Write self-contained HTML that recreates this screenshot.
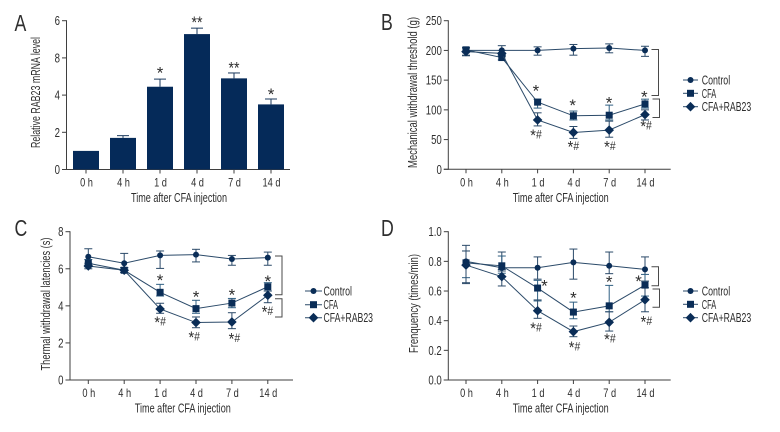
<!DOCTYPE html>
<html lang="en">
<head>
<meta charset="utf-8">
<title>RAB23 time-course panels</title>
<style>
html,body{margin:0;padding:0;background:#fff;}
#figure{display:block;width:780px;height:432px;font-family:"Liberation Sans",sans-serif;}
</style>
</head>
<body>
<svg id="figure" xmlns="http://www.w3.org/2000/svg" width="780" height="432" viewBox="0 0 780 432"></svg>
<script>
// Shared categories
const categories = ['0 h', '4 h', '1 d', '4 d', '7 d', '14 d'];
const seriesNames = ['Control', 'CFA', 'CFA+RAB23'];

// Panel A
const aValues = [1, 1.7, 4.45, 7.28, 4.9, 3.5];
const aUpper = [1, 1.82, 4.86, 7.6, 5.19, 3.79];
const aTicks = [0, 2, 4, 6, 8];
const aTickLabels = ['0', '2', '4', '8', '6'];
const aNotes = [[2, 5.28, '*'], [3, 7.98, '**'], [4, 5.55, '**'], [5, 4.1, '*']];

// Panel B
const bTicks = [0, 50, 100, 150, 200, 250];
const bTickLabels = ['0', '50', '100', '150', '200', '250'];
const bControl = [200, 200, 200, 203, 204, 200];
const bControlUp = [205, 208, 206, 210, 211, 207];
const bControlLow = [191, 192, 192, 192, 196, 190];
const bCfa = [201, 188, 113, 90, 91, 110];
const bCfaUp = [205, 192, 118, 98, 108, 118];
const bCfaLow = [197, 184, 103, 83, 83, 103];
const bRab = [198, 195, 83, 62, 66, 92];
const bRabUp = [204, 200, 95, 72, 81, 100];
const bRabLow = [192, 190, 73, 52, 54, 83];
const bNotes = [[1.955, 134.5, '*'], [2.98, 110, '*'], [3.995, 114, '*'], [4.98, 124, '*'],
  [1.955, 59.4, '*#'], [3, 40.4, '*#'], [4.02, 40.4, '*#'], [5.03, 74.6, '*#']];

// Panel C
const cTicks = [0, 2, 4, 6, 8];
const cTickLabels = ['0', '2', '4', '6', '8'];
const cControl = [6.65, 6.3, 6.72, 6.76, 6.53, 6.6];
const cControlUp = [7.08, 6.83, 6.96, 7.05, 6.72, 6.9];
const cControlLow = [6.2, 6.06, 6.02, 6.37, 6.19, 6.19];
const cCfa = [6.3, 5.92, 4.73, 3.85, 4.15, 5.03];
const cCfaUp = [6.5, 6.05, 5.16, 4.3, 4.4, 5.25];
const cCfaLow = [6.1, 5.8, 4.53, 3.6, 3.9, 4.8];
const cRab = [6.15, 5.92, 3.83, 3.1, 3.13, 4.57];
const cRabUp = [6.3, 6.05, 4.14, 3.4, 3.63, 4.8];
const cRabLow = [6.0, 5.8, 3.6, 2.82, 2.77, 4.17];
const cNotes = [[2, 5.45, '*'], [3, 4.55, '*'], [4, 4.66, '*'], [5, 5.4, '*'],
  [2, 3.17, '*#'], [2.95, 2.37, '*#'], [4.07, 2.3, '*#'], [4.99, 3.76, '*#']];

// Panel D
const dTicks = [0, 0.2, 0.4, 0.6, 0.8, 1];
const dTickLabels = ['0.0', '0.2', '0.4', '0.6', '0.8', '1.0'];
const dControl = [0.8, 0.757, 0.757, 0.793, 0.77, 0.746];
const dControlUp = [0.908, 0.863, 0.83, 0.883, 0.863, 0.83];
const dControlLow = [0.656, 0.735, 0.68, 0.68, 0.717, 0.667];
const dCfa = [0.79, 0.77, 0.62, 0.458, 0.5, 0.64];
const dCfaUp = [0.87, 0.836, 0.672, 0.525, 0.638, 0.712];
const dCfaLow = [0.69, 0.72, 0.533, 0.413, 0.46, 0.566];
const dRab = [0.775, 0.697, 0.467, 0.326, 0.389, 0.541];
const dRabUp = [0.87, 0.745, 0.54, 0.364, 0.46, 0.622];
const dRabLow = [0.65, 0.634, 0.416, 0.292, 0.33, 0.46];
const dNotes = [[2.19, 0.645, '*'], [3, 0.562, '*'], [4, 0.672, '*'], [4.82, 0.674, '*'],
  [1.955, 0.357, '*#'], [3.03, 0.229, '*#'], [4.02, 0.283, '*#'], [5.04, 0.402, '*#']];

const NS = 'http://www.w3.org/2000/svg';
const root = document.getElementById('figure');
const NAVY = '#0a2d57';
const LINE = '#2b4a69';
const AXIS = '#3f3f3f';
const INK = '#2e2e2e';

function make(parent, tag, attrs) {
  const el = document.createElementNS(NS, tag);
  for (const k in attrs) el.setAttribute(k, attrs[k]);
  parent.appendChild(el);
  return el;
}

function label(parent, name, str, x, y, size, anchor, width, rotate) {
  const t = make(parent, 'text', {x: x, y: y, 'font-size': size, 'text-anchor': anchor, fill: INK});
  
  
  t.textContent = str;
  const natural = t.getComputedTextLength();
  const target = width || natural * 0.77;
  t.setAttribute('textLength', target);
  t.setAttribute('lengthAdjust', 'spacingAndGlyphs');
  if (rotate) t.setAttribute('transform', 'rotate(-90 ' + x + ' ' + y + ')');
  return t;
}

function line(parent, name, x1, y1, x2, y2, color, w) {
  const l = make(parent, 'line', {x1: x1, y1: y1, x2: x2, y2: y2, stroke: color, 'stroke-width': w});
  
  
  return l;
}

function marker(parent, name, kind, x, y) {
  let m;
  if (kind === 0) {
    m = make(parent, 'circle', {cx: x, cy: y, r: 3, fill: NAVY});
  } else if (kind === 1) {
    m = make(parent, 'rect', {x: x - 3.5, y: y - 3.5, width: 7, height: 7, fill: NAVY});
  } else {
    m = make(parent, 'polygon', {points: [x, y - 4.8, x + 4.8, y, x, y + 4.8, x - 4.8, y].join(','), fill: NAVY});
  }
  
  
  return m;
}

function drawAxes(g, o, ticks, tickLabels) {
  const sy = v => o.y0 - (v - ticks[0]) / (ticks[ticks.length - 1] - ticks[0]) * (o.y0 - o.yTop);
  const sx = i => o.x0 + i * o.step;
  line(g, 'y-axis', o.xAxis, o.yTop - 0.5, o.xAxis, o.y0 + 0.5, AXIS, 1);
  line(g, 'x-axis', o.xAxis - 4.5, o.y0, o.xEnd, o.y0, AXIS, 1);
  ticks.forEach((v, i) => {
    line(g, 'y-tick', o.xAxis - 4.5, sy(v), o.xAxis, sy(v), AXIS, 1);
    label(g, 'y-tick-label', tickLabels[i], o.xAxis - 6.5, sy(v) + 4.5, 12.5, 'end');
  });
  categories.forEach((c, i) => {
    line(g, 'x-tick', sx(i), o.y0, sx(i), o.y0 + 4, AXIS, 1);
    label(g, 'x-tick-label', c, sx(i) + 0.5, o.y0 + 17, 12, 'middle');
  });
  label(g, 'x-axis-title', 'Time after CFA injection', o.xTitle, o.y0 + 32.5, 12.5, 'middle', 96);
  label(g, 'y-axis-title', o.yTitle, o.yTitleX, o.yTitleMid, 12.5, 'middle', o.yTitleLen, true);
  label(g, 'panel-letter', o.letter, o.letterX, o.letterY, 23, 'start');
  return {sx, sy};
}

function drawNotes(g, notes, s) {
  notes.forEach(n => {
    const x = s.sx(n[0]);
    const y = s.sy(n[1]) + 7;
    const t = make(g, 'text', {x: x, y: y, 'font-size': 17, 'text-anchor': 'middle', fill: INK});
    
    
    t.textContent = n[2].charAt(0) === '*' ? '*' : n[2];
    if (n[2].length === 2 && n[2].charAt(1) === '*') {
      t.textContent = '**';
    } else if (n[2].length === 2) {
      const h = make(t, 'tspan', {'font-size': 12, dy: -2.5});
      
      
      h.textContent = '#';
    }
    const w = t.getComputedTextLength();
    t.setAttribute('textLength', n[2] === '*' ? w : (n[2] === '**' ? 11 : 11.5));
    t.setAttribute('lengthAdjust', 'spacingAndGlyphs');
  });
}

function drawSeries(g, s, seriesList) {
  seriesList.forEach((ser, k) => {
    ser.up.forEach((u, i) => {
      const x = s.sx(i);
      const color = k === 1 ? '#2f5f82' : LINE;
      line(g, 'error-bar', x, s.sy(u), x, s.sy(ser.low[i]), color, 1);
      line(g, 'error-cap-top', x - 4, s.sy(u), x + 4, s.sy(u), color, 1);
      line(g, 'error-cap-bottom', x - 4, s.sy(ser.low[i]), x + 4, s.sy(ser.low[i]), color, 1);
    });
  });
  seriesList.forEach((ser, k) => {
    const pts = ser.val.map((v, i) => s.sx(i) + ',' + s.sy(v)).join(' ');
    const p = make(g, 'polyline', {points: pts, fill: 'none', stroke: LINE, 'stroke-width': 1});
    
    
    ser.val.forEach((v, i) => {
      marker(g, 'series-point-' + seriesNames[k].toLowerCase().replace('+', '-'), k, s.sx(i), s.sy(v));
    });
  });
}

function drawLegend(g, x1, x2, textX, ys) {
  const widths = [28.5, 14.5, 49.5];
  seriesNames.forEach((n, k) => {
    line(g, 'legend-line', x1, ys[k], x2, ys[k], LINE, 1);
    marker(g, 'legend-marker', k, (x1 + x2) / 2, ys[k]);
    label(g, 'legend-label', n, textX, ys[k] + 4.5, 12.5, 'start', widths[k]);
  });
}

function bracket(g, x1, x2, y1, y2) {
  const p = make(g, 'polyline', {points: [x1, y1, x2, y1, x2, y2, x1, y2].join(','), fill: 'none', stroke: '#4a4a4a', 'stroke-width': 1});
  
  
}

function panelGroup(name) {
  const g = make(root, 'g', {});
  
  
  return g;
}

// Panel A: bars
(function () {
  const g = panelGroup('panel-a-bar-chart');
  const s = drawAxes(g, {xAxis: 66.5, y0: 169.5, yTop: 20.7, xEnd: 290, x0: 86, step: 37,
    yTitle: 'Relative RAB23 mRNA level', yTitleX: 40, yTitleMid: 92.5, yTitleLen: 111,
    xTitle: 179, letter: 'A', letterX: 14.5, letterY: 31}, aTicks, aTickLabels);
  aValues.forEach((v, i) => {
    const x = s.sx(i);
    if (aUpper[i] > v) {
      line(g, 'bar-error-stem', x, s.sy(aUpper[i]), x, s.sy(v), '#1b3a5e', 1);
      line(g, 'bar-error-cap', x - 6, s.sy(aUpper[i]), x + 6, s.sy(aUpper[i]), '#1b3a5e', 1);
    }
    const b = make(g, 'rect', {x: x - 13, y: s.sy(v), width: 26, height: 169.5 - s.sy(v), fill: '#052a59'});
    
    
  });
  drawNotes(g, aNotes, s);
})();

// Panel B
(function () {
  const g = panelGroup('panel-b-mechanical-threshold');
  const s = drawAxes(g, {xAxis: 448.3, y0: 169.3, yTop: 20.7, xEnd: 670.7, x0: 466, step: 35.8,
    yTitle: 'Mechanical withdrawal threshold (g)', yTitleX: 417, yTitleMid: 92.5, yTitleLen: 151,
    xTitle: 560.7, letter: 'B', letterX: 381, letterY: 30}, bTicks, bTickLabels);
  drawSeries(g, s, [
    {val: bControl, up: bControlUp, low: bControlLow},
    {val: bCfa, up: bCfaUp, low: bCfaLow},
    {val: bRab, up: bRabUp, low: bRabLow}]);
  drawNotes(g, bNotes, s);
  bracket(g, 651.5, 658.5, 49.5, 95.5);
  bracket(g, 652.5, 659.5, 99, 117.5);
  drawLegend(g, 683, 698, 701.7, [80, 93.3, 106.7]);
})();

// Panel C
(function () {
  const g = panelGroup('panel-c-thermal-latency');
  const s = drawAxes(g, {xAxis: 70, y0: 380, yTop: 231.7, xEnd: 293, x0: 88.3, step: 35.9,
    yTitle: 'Thermal withdrawal latencies (s)', yTitleX: 50, yTitleMid: 304, yTitleLen: 133,
    xTitle: 182.8, letter: 'C', letterX: 14.5, letterY: 236}, cTicks, cTickLabels);
  drawSeries(g, s, [
    {val: cControl, up: cControlUp, low: cControlLow},
    {val: cCfa, up: cCfaUp, low: cCfaLow},
    {val: cRab, up: cRabUp, low: cRabLow}]);
  drawNotes(g, cNotes, s);
  bracket(g, 275, 282, 256, 294.7);
  bracket(g, 275, 282, 298.7, 317);
  drawLegend(g, 305, 322, 323.5, [291, 304.7, 317.7]);
})();

// Panel D
(function () {
  const g = panelGroup('panel-d-frequency');
  const s = drawAxes(g, {xAxis: 448.3, y0: 380, yTop: 231.7, xEnd: 670.7, x0: 466, step: 35.8,
    yTitle: 'Frenquency (times/min)', yTitleX: 418, yTitleMid: 303.5, yTitleLen: 99,
    xTitle: 560.7, letter: 'D', letterX: 381, letterY: 236}, dTicks, dTickLabels);
  drawSeries(g, s, [
    {val: dControl, up: dControlUp, low: dControlLow},
    {val: dCfa, up: dCfaUp, low: dCfaLow},
    {val: dRab, up: dRabUp, low: dRabLow}]);
  drawNotes(g, dNotes, s);
  bracket(g, 651.5, 658.5, 266.7, 285.7);
  bracket(g, 652.5, 659.5, 289, 307.3);
  drawLegend(g, 683, 698, 701.7, [291, 304.3, 317.7]);
})();
</script>
</body>
</html>
